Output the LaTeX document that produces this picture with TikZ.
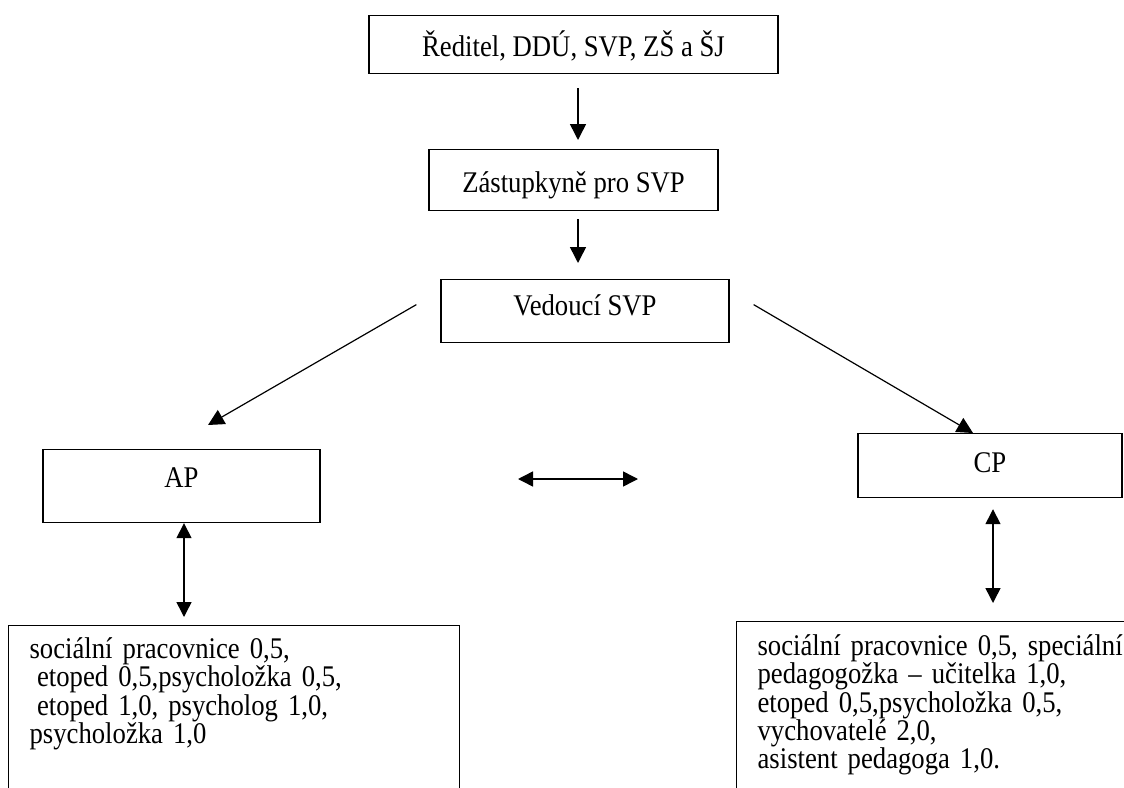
\documentclass[tikz,border=0pt]{standalone}
\usepackage{fontspec}
\setmainfont[FakeStretch=0.89]{Liberation Serif}
\usetikzlibrary{arrows.meta, calc}

\begin{document}
\begin{tikzpicture}[
        x=1pt, y=-1pt,
        box/.style={
            draw,
            rectangle,
            inner sep=0pt,
            line width=1.2pt,
            font=\fontsize{30}{30}\selectfont,
        },
        listbox/.style={
            box,
            anchor=north west,
            align=left,
            inner xsep=21pt,
            inner ysep=0pt,
            text depth=167pt,
        },
        arr/.style={
            line width=1.5pt,
            -{Triangle[length=16pt, width=16pt]},
        },
        dbl/.style={
            line width=1.5pt,
            {Triangle[length=15pt, width=15pt]}-{Triangle[length=15pt, width=15pt]},
        },
    ]

    \useasboundingbox (0, 0) rectangle (1124, 787);
    \clip (0, 0) rectangle (1124, 787);

    \node[box, anchor=north, minimum width=409pt, text height=41pt, text depth=17pt]
        (boss) at (573.5, 15) {Ředitel, DDÚ, SVP, ZŠ a ŠJ};
    \node[box, anchor=north, minimum width=289pt, text height=43pt, text depth=18pt]
        (deputy) at (573.5, 149) {Zástupkyně pro SVP};
    \node[box, anchor=north, minimum width=288pt, text height=36pt, text depth=27pt]
        (head) at (585, 279) {Vedoucí SVP};
    \node[box, anchor=north, minimum width=277pt, text height=38pt, text depth=35pt]
        (ap) at (181.5, 449) {AP};
    \node[box, anchor=north, minimum width=264pt, text height=39pt, text depth=25pt]
        (cp) at (990, 433) {CP};

    \node[listbox, text width=409pt, text height=33pt,
          font=\fontsize{30}{26.5}\selectfont] (apstaff) at (8, 625) {%
        sociální pracovnice 0,5,\\
        \hspace*{0.25em}etoped 0,5,psycholožka 0,5,\\
        \hspace*{0.25em}etoped 1,0, psycholog 1,0,\\
        psycholožka 1,0};
    \node[listbox, text width=420pt, text height=34pt,
          font=\fontsize{30}{24.6}\selectfont] (cpstaff) at (736, 621) {%
        sociální pracovnice 0,5, speciální\\
        pedagogožka – učitelka 1,0,\\
        etoped 0,5,psycholožka 0,5,\\
        vychovatelé 2,0,\\
        asistent pedagoga 1,0.};

    \coordinate (link l) at (518, 479);
    \coordinate (link r) at (638, 479);

    \begin{scope}[arr]
        \draw ($(boss.south)+(4.5, 14)$) -- ($(deputy.north)+(4.5, -9)$);
        \draw ($(deputy.south)+(4.5, 8)$) -- ($(head.north)+(-7, -16)$);
        \draw[line width=1.2pt] ($(head.west)+(-24, -6.5)$) -- ($(ap.north)+(26.5, -24)$);
        \draw[line width=1.2pt] ($(head.east)+(24, -6.5)$) -- ($(cp.north)+(-17, 0)$);
    \end{scope}

    \begin{scope}[dbl]
        \draw (link l) -- (link r);
        \draw ($(ap.south)+(2.5, 0)$) -- ($(ap.south |- apstaff.north)+(2.5, -8)$);
        \draw ($(cp.south)+(3, 11)$) -- ($(cp.south |- cpstaff.north)+(3, -18)$);
    \end{scope}
\end{tikzpicture}
\end{document}
